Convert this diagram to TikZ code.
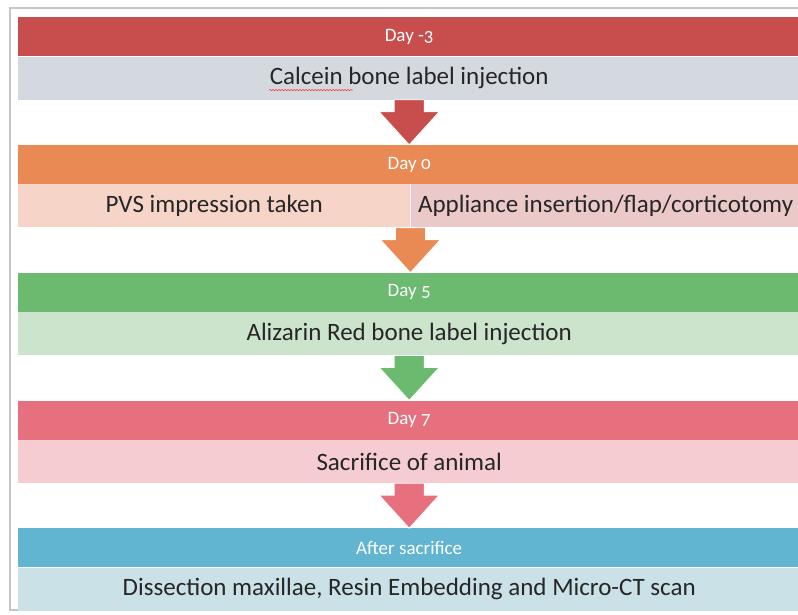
\documentclass[tikz,border=0pt]{standalone}
\usepackage{fontspec}
\setmainfont{Carlito}[Numbers=OldStyle]
\usetikzlibrary{positioning,calc,decorations.pathmorphing}

\definecolor{hdrred}{HTML}{C84E4E}
\definecolor{bodyred}{HTML}{D4D9E0}
\definecolor{hdrorange}{HTML}{E98A55}
\definecolor{bodyorangea}{HTML}{F7D4C8}
\definecolor{bodyorangeb}{HTML}{EAC9C8}
\definecolor{hdrgreen}{HTML}{6CBA6F}
\definecolor{bodygreen}{HTML}{CDE4CC}
\definecolor{hdrpink}{HTML}{E7707F}
\definecolor{bodypink}{HTML}{F5CCD2}
\definecolor{hdrblue}{HTML}{62B5D0}
\definecolor{bodyblue}{HTML}{CAE1E8}
\definecolor{txt}{HTML}{262626}

\tikzset{
  hdr/.style={minimum width=782pt,minimum height=39pt,inner sep=0pt,text=white,font=\fontsize{19}{21}\selectfont},
  bodybar/.style={minimum width=782pt,minimum height=43pt,inner sep=0pt,text=txt,font=\fontsize{25}{28}\selectfont},
}

% arrow from the bottom of one band to the top of the next
\newcommand{\flowarrow}[3]{%
  \fill[#3,draw=white,line width=0.8pt] let \p1=(#1), \p2=(#2) in
    (\x1-15pt,\y1) -- (\x1+15pt,\y1) -- (\x1+15pt,\y1-12pt) -- (\x1+30pt,\y1-12pt)
    -- (\x1,\y2) -- (\x1-30pt,\y1-12pt) -- (\x1-15pt,\y1-12pt) -- cycle;}

\begin{document}
\begin{tikzpicture}[x=1pt,y=1pt,node distance=45pt]
\useasboundingbox (0,0) rectangle (798,-614);
\clip (0,0) rectangle (798,-614);
\fill[white] (0,0) rectangle (798,-614);
\draw[gray!45,line width=1.6pt] (10,-8) rectangle (820,-610);

% Day -3
\node[hdr,fill=hdrred,anchor=north west] (h1) at (18,-17) {Day -3};
\node[bodybar,fill=bodyred,below=0pt of h1] (b1) {Calcein bone label injection};
\draw[red!80,line width=0.5pt,decorate,decoration={snake,amplitude=0.7pt,segment length=3pt}]
  ($(b1.center)+(-140,-12)$) -- ($(b1.center)+(-56,-12)$);

% Day 0
\node[hdr,fill=hdrorange,below=of b1] (h2) {Day 0};
\node[bodybar,fill=bodyorangea,minimum width=392pt,anchor=north west] (b2a) at (h2.south west) {PVS impression taken};
\node[bodybar,fill=bodyorangeb,minimum width=390pt,right=0pt of b2a] (b2b) {Appliance insertion/flap/corticotomy};

% Day 5
\node[hdr,fill=hdrgreen,below=of b1|-b2a.south] (h3) {Day 5};
\node[bodybar,fill=bodygreen,below=0pt of h3] (b3) {Alizarin Red bone label injection};

% Day 7
\node[hdr,fill=hdrpink,below=of b3] (h4) {Day 7};
\node[bodybar,fill=bodypink,below=0pt of h4] (b4) {Sacrifice of animal};

% after sacrifice
\node[hdr,fill=hdrblue,below=of b4] (h5) {After sacrifice};
\node[bodybar,fill=bodyblue,below=0pt of h5] (b5) {Dissection maxillae, Resin Embedding and Micro-CT scan};

\flowarrow{b1.south}{h2.north}{hdrred}
\flowarrow{b2a.south east}{h3.north}{hdrorange}
\flowarrow{b3.south}{h4.north}{hdrgreen}
\flowarrow{b4.south}{h5.north}{hdrpink}
\end{tikzpicture}
\end{document}
